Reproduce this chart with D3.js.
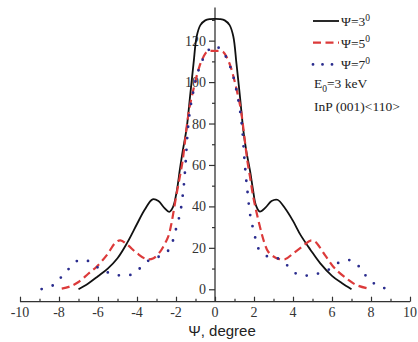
<!DOCTYPE html>
<html>
<head>
<meta charset="utf-8">
<script src="https://cdn.jsdelivr.net/npm/d3@7"></script>
<style>
  body { margin: 0; background: #fff; }
  svg { display: block; }
</style>
</head>
<body>
<svg id="chart" width="418" height="342"></svg>
<script>
// tick values
const xMajor = [-10, -8, -6, -4, -2, 0, 2, 4, 6, 8, 10];
const xMinor = [-9, -7, -5, -3, -1, 1, 3, 5, 7, 9];
const yMajor = [0, 20, 40, 60, 80, 100, 120];
const yMinor = [10, 30, 50, 70, 90, 110, 130];

// Psi = 3 deg (black solid)
const psi3 = [
  [-7, 0], [-6.5, 2.8], [-6, 6.3], [-5.5, 10], [-5, 15], [-4.5, 22.5], [-4, 31.5],
  [-3.6, 38.5], [-3.2, 43.4], [-2.9, 42.6], [-2.6, 39.3], [-2.35, 37.4], [-2.15, 39.8],
  [-1.95, 48], [-1.8, 58], [-1.65, 67], [-1.45, 78], [-1.28, 93], [-1.1, 109],
  [-0.94, 122], [-0.75, 127.5], [-0.5, 129.8], [-0.25, 130.4], [0, 130.5],
  [0.25, 130.4], [0.5, 129.8], [0.75, 127.5], [0.94, 122], [1.1, 109], [1.28, 93],
  [1.45, 77], [1.6, 67], [1.8, 57], [1.95, 48], [2.1, 40.5], [2.3, 37.5], [2.6, 39.5],
  [2.9, 42.6], [3.2, 43.2], [3.6, 39], [4, 33], [4.4, 26], [4.9, 19], [5.4, 12.5],
  [6, 6.5], [6.5, 3], [7, 0]
];

// Psi = 5 deg (red dashed)
const psi5 = [
  [-7.86, 0.3], [-7.45, 1.3], [-7, 3.5], [-6.5, 7.5], [-6.07, 10.9], [-5.55, 16.5],
  [-5.1, 22.5], [-4.85, 23.6], [-4.5, 21.5], [-4, 17.4], [-3.5, 14.5], [-3.15, 15],
  [-2.8, 18.3], [-2.65, 20.6], [-2.4, 25.4], [-2.25, 31], [-2.14, 36.7], [-1.97, 46],
  [-1.8, 54.5], [-1.66, 62], [-1.45, 78.5], [-1.33, 86.5], [-1.19, 93], [-0.99, 101],
  [-0.8, 107.5], [-0.6, 112], [-0.4, 114.7], [0, 115],
  [0.4, 114.7], [0.6, 112], [0.8, 107.5], [0.99, 101], [1.19, 93], [1.33, 86.5],
  [1.45, 78], [1.66, 62], [1.8, 54], [1.96, 44.7], [2.14, 36.7], [2.39, 27], [2.55, 22],
  [2.73, 18.1], [3.16, 15], [3.59, 14.5], [4.02, 17.4], [4.53, 21], [4.9, 23.5],
  [5.13, 23], [5.64, 16.5], [6.15, 10], [6.84, 4.5], [7.26, 2], [7.78, 0.5]
];

// Psi = 7 deg (blue dotted)
const psi7 = [
  [-8.89, 0.1], [-8.29, 2], [-7.86, 6.1], [-7.44, 10.4], [-6.97, 14.1], [-6.41, 13.3],
  [-5.9, 9.8], [-5.35, 7.7], [-4.79, 6.6], [-4.19, 7.4], [-3.68, 11.7], [-3.16, 15.4],
  [-2.73, 16], [-2.31, 19.8], [-2.1, 25.4], [-1.93, 31.8], [-1.8, 36], [-1.7, 42],
  [-1.6, 50], [-1.5, 62], [-1.4, 76], [-1.28, 86.5], [-1.1, 96], [-0.9, 104],
  [-0.65, 110.5], [-0.4, 114.7], [-0.2, 116.5], [0, 117.4],
  [0.2, 116.5], [0.4, 114.7], [0.65, 110.5], [0.9, 104], [1.1, 96], [1.28, 86.5],
  [1.4, 77], [1.5, 64], [1.6, 53], [1.68, 46], [1.79, 36.7], [1.91, 31], [2.05, 25.4],
  [2.22, 19.8], [2.7, 15.8], [3.2, 15], [3.68, 11.7], [4.19, 7.4], [4.75, 6.6],
  [5.33, 7.7], [5.9, 9.8], [6.38, 13], [6.96, 14], [7.44, 10.4], [7.78, 6], [8.29, 2],
  [8.89, 0]
];

const seriesNames = ["3", "5", "7"];
const seriesData = [psi3, psi5, psi7];
const seriesColors = ["#111111", "#dc3a3a", "#2a2c8e"];
const seriesDash = [null, "8,4.5", "0,11.5"];
const seriesWidth = [1.8, 2.2, 2.8];

const svg = d3.select("#chart");
const serif = "'Liberation Serif', 'Times New Roman', serif";
const axisColor = "#333";

const x = d3.scaleLinear().domain([-10, 10]).range([20, 410]);
const y = d3.scaleLinear().domain([-6, 136]).range([301.7, 7.5]);

// x axis, ticks pointing up
const xAxisG = svg.append("g").attr("transform", "translate(0," + y(-6) + ")");
xAxisG.call(d3.axisTop(x).tickValues(xMajor).tickSize(5).tickFormat(""));
xAxisG.call(g => g.select(".domain").remove());
xAxisG.append("g").call(d3.axisTop(x).tickValues(xMinor).tickSize(3).tickFormat(""))
  .call(g => g.select(".domain").remove());
xAxisG.append("line").attr("x1", x(-10)).attr("x2", x(10)).attr("stroke", axisColor).attr("stroke-width", 1.3);
xAxisG.selectAll(".tick line").attr("stroke", axisColor).attr("stroke-width", 1.2);

svg.append("g").selectAll("text")
  .data(xMajor)
  .enter().append("text")
  .attr("x", d => x(d))
  .attr("y", 317)
  .attr("text-anchor", "middle")
  .attr("font-family", serif)
  .attr("font-size", 14)
  .attr("fill", "#333")
  .text(d => d);

svg.append("text")
  .attr("x", 222)
  .attr("y", 336)
  .attr("text-anchor", "middle")
  .attr("font-family", "'Liberation Sans', Arial, sans-serif")
  .attr("font-size", 15)
  .attr("fill", "#222")
  .text("Ψ, degree");

// y axis at x = 0
const yAxisG = svg.append("g").attr("transform", "translate(" + x(0) + ",0)");
yAxisG.call(d3.axisLeft(y).tickValues(yMajor).tickSize(6).tickPadding(3).tickFormat(d => d));
yAxisG.select(".domain").remove();
yAxisG.append("g").call(d3.axisLeft(y).tickValues(yMinor).tickSize(3).tickFormat(""))
  .call(g => g.select(".domain").remove());
yAxisG.append("line").attr("y1", y(-6)).attr("y2", y(136)).attr("stroke", axisColor).attr("stroke-width", 1.3);
yAxisG.selectAll(".tick line").attr("stroke", axisColor).attr("stroke-width", 1.2);
yAxisG.selectAll(".tick text")
  .attr("font-family", serif)
  .attr("font-size", 14)
  .attr("fill", "#333");

// curves
const line = d3.line()
  .x(d => x(d[0]))
  .y(d => y(d[1]))
  .curve(d3.curveCatmullRom.alpha(0.5));

svg.append("g").selectAll("path")
  .data(seriesData)
  .enter().append("path")
  .attr("d", d => line(d))
  .attr("fill", "none")
  .attr("stroke", (d, i) => seriesColors[i])
  .attr("stroke-width", (d, i) => seriesWidth[i])
  .attr("stroke-dasharray", (d, i) => seriesDash[i])
  .attr("stroke-linecap", (d, i) => i === 2 ? "round" : "butt");

// legend
const legend = svg.append("g").attr("class", "legend");
seriesNames.forEach((name, i) => {
  const ly = 21 + i * 21.7;
  legend.append("line")
    .attr("x1", 313).attr("x2", i === 2 ? 336 : 339)
    .attr("y1", ly).attr("y2", ly)
    .attr("stroke", seriesColors[i])
    .attr("stroke-width", seriesWidth[i])
    .attr("stroke-dasharray", i === 2 ? "0,9.5" : seriesDash[i])
    .attr("stroke-linecap", i === 2 ? "round" : "butt");
  const t = legend.append("text")
    .attr("x", 341).attr("y", ly + 5)
    .attr("font-family", serif)
    .attr("font-size", 13.5)
    .attr("fill", "#222");
  t.append("tspan").text("Ψ=" + name);
  t.append("tspan").attr("dy", -5.5).attr("font-size", 9.5).text("0");
});

const e0 = legend.append("text")
  .attr("x", 314).attr("y", 88)
  .attr("font-family", serif)
  .attr("font-size", 13.5)
  .attr("fill", "#222");
e0.append("tspan").text("E");
e0.append("tspan").attr("dy", 3.5).attr("font-size", 9.5).text("0");
e0.append("tspan").attr("dy", -3.5).text("=3 keV");

legend.append("text")
  .attr("x", 314).attr("y", 111)
  .attr("font-family", serif)
  .attr("font-size", 13.5)
  .attr("fill", "#222")
  .text("InP (001)<110>");
</script>
</body>
</html>
